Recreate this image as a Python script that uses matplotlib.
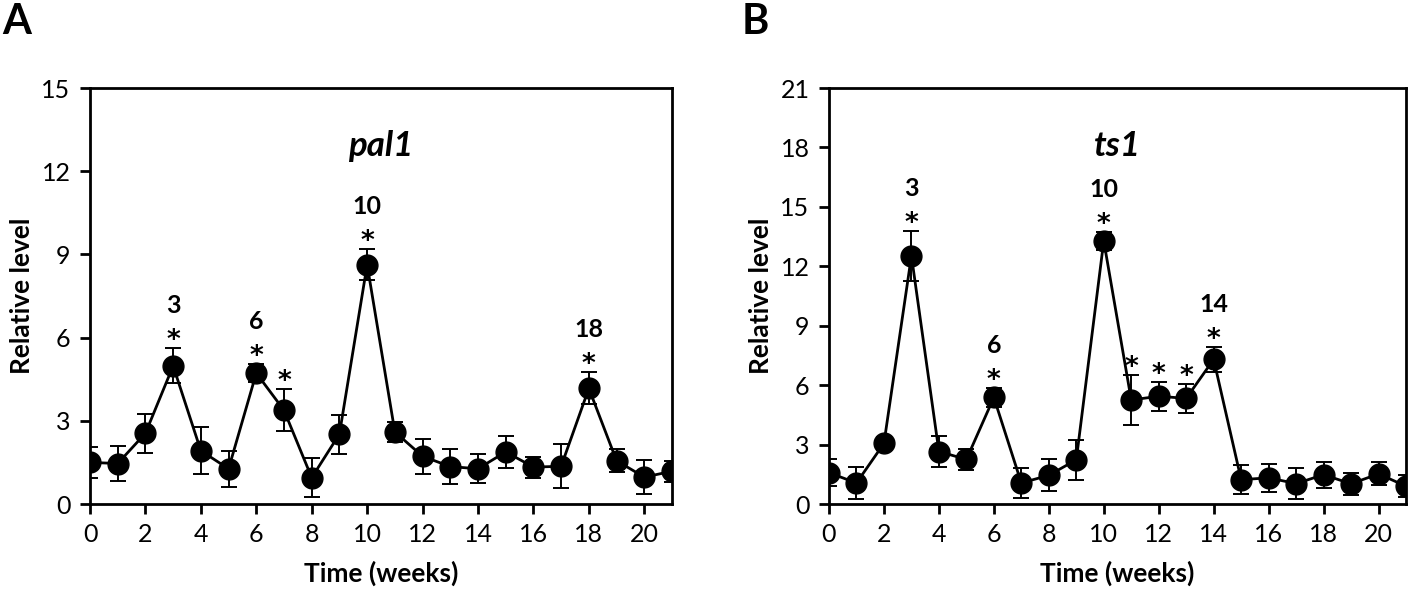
import numpy as np
import matplotlib
matplotlib.use("Agg")
import matplotlib.pyplot as plt

plt.rcParams['font.family'] = ['Lato', 'DejaVu Sans']

# Data
weeks = list(range(22))

pal1_mean = [1.50, 1.46, 2.55, 4.98, 1.92, 1.27, 4.72, 3.38, 0.95, 2.52, 8.63,
             2.60, 1.72, 1.35, 1.27, 1.88, 1.33, 1.36, 4.17, 1.56, 0.97, 1.18]
pal1_err = [0.55, 0.63, 0.70, 0.63, 0.85, 0.65, 0.33, 0.75, 0.70, 0.70, 0.55,
            0.37, 0.63, 0.62, 0.52, 0.58, 0.38, 0.80, 0.58, 0.42, 0.62, 0.38]
pal1_sig = [3, 6, 7, 10, 18]
pal1_labeled = [3, 6, 10, 18]

ts1_mean = [1.58, 1.06, 3.06, 12.53, 2.65, 2.25, 5.38, 1.06, 1.45, 2.23, 13.28,
            5.25, 5.44, 5.33, 7.30, 1.23, 1.32, 1.03, 1.48, 1.02, 1.52, 0.90]
ts1_err = [0.67, 0.80, 0.33, 1.27, 0.76, 0.55, 0.50, 0.77, 0.80, 1.00, 0.45,
           1.25, 0.73, 0.75, 0.63, 0.72, 0.72, 0.78, 0.65, 0.57, 0.58, 0.55]
ts1_sig = [3, 6, 10, 11, 12, 13, 14]
ts1_labeled = [3, 6, 10, 14]

W, H = 1418, 595
fig = plt.figure(figsize=(W / 100, H / 100), dpi=100)


def panel(left, right, mean, err, sig, labeled, ymax, title, letter, letter_x):
    ax = fig.add_axes([left / W, 1 - 504 / H, (right - left) / W, (504 - 88) / H])
    ax.errorbar(weeks, mean, yerr=err, fmt='none', ecolor='black',
                elinewidth=1.4, capsize=6, capthick=1.4, zorder=2)
    ax.plot(weeks, mean, color='black', lw=2, marker='o', ms=15,
            mfc='black', mec='black', zorder=3)
    ax.set_xlim(0, 21)
    ax.set_ylim(0, ymax)
    ax.set_xticks(range(0, 21, 2))
    ax.set_yticks(range(0, ymax + 1, 3))
    for s in ax.spines.values():
        s.set_linewidth(2)
    ax.tick_params(direction='out', length=7, width=2, labelsize=18, pad=7)
    ax.set_xlabel('Time (weeks)', fontsize=19, fontweight='bold', labelpad=10)
    ax.set_ylabel('Relative level', fontsize=19, fontweight='bold', labelpad=5)
    ax.text(0.5, 0.86, title, transform=ax.transAxes, ha='center', va='center',
            fontsize=25, fontweight='bold', style='italic')
    for w in sig:
        top = mean[w] + err[w]
        ax.annotate('*', (w, top), xytext=(0, 0), textcoords='offset pixels',
                    ha='center', va='baseline', fontsize=19, fontweight='bold',
                    family='DejaVu Sans')
        if w in labeled:
            ax.annotate(str(w), (w, top), xytext=(0, 35), textcoords='offset pixels',
                        ha='center', va='baseline', fontsize=18, fontweight='bold')
    fig.text(letter_x / W, 1 - 3 / H, letter, ha='left', va='top',
             fontsize=30, fontweight='bold')
    return ax


panel(90, 672, pal1_mean, pal1_err, pal1_sig, pal1_labeled, 15, 'pal1', 'A', 2)
panel(829, 1406, ts1_mean, ts1_err, ts1_sig, ts1_labeled, 21, 'ts1', 'B', 742)

fig.savefig('out.png', dpi=100)
